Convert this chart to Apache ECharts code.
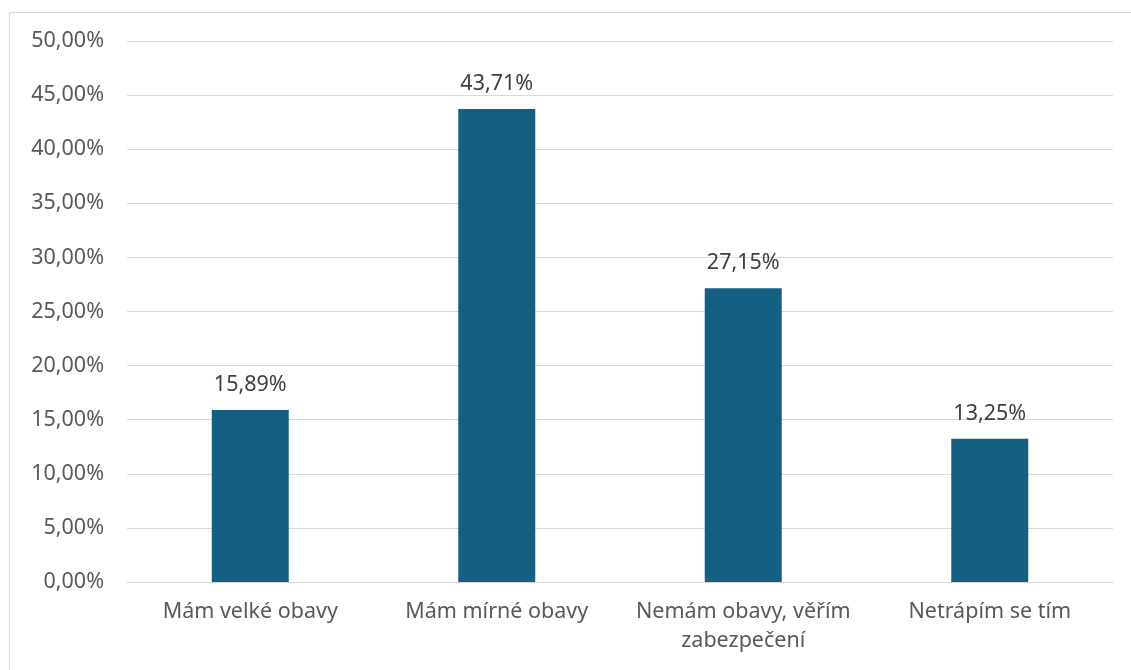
<!DOCTYPE html>
<html>
<head>
<meta charset="utf-8">
<script src="https://cdn.jsdelivr.net/npm/echarts@6/dist/echarts.min.js"></script>
<style>
  html, body { margin: 0; padding: 0; background: #fff; }
  #main { width: 1131px; height: 670px; }
</style>
</head>
<body>
<div id="main"></div>
<script>
const categories = ['Mám velké obavy', 'Mám mírné obavy', 'Nemám obavy, věřím zabezpečení', 'Netrápím se tím'];
const values = [15.89, 43.71, 27.15, 13.25];

const fmt = v => v.toFixed(2).replace('.', ',') + '%';

// zalomeni dlouhych popisku (jako v Excelu)
const wrap = (s, max) => {
  let lines = [], cur = '';
  s.split(' ').forEach(w => {
    if (cur && (cur + ' ' + w).length > max) { lines.push(cur); cur = w; }
    else cur = cur ? cur + ' ' + w : w;
  });
  lines.push(cur);
  return lines.join('\n');
};

let myChart = echarts.init(document.getElementById('main'));
myChart.setOption({
  animation: false,
  textStyle: { fontFamily: 'Noto Sans, sans-serif' },
  graphic: [{
    type: 'rect',
    shape: { x: 9.5, y: 12.5, width: 1130, height: 700 },
    style: { fill: 'none', stroke: '#d9d9d9', lineWidth: 1 },
    silent: true
  }],
  grid: { left: 127, right: 18, top: 41, bottom: 88, outerBoundsMode: 'none' },
  xAxis: {
    type: 'category',
    data: categories,
    axisTick: { show: false },
    axisLine: { lineStyle: { color: '#d9d9d9', width: 1 } },
    axisLabel: {
      color: '#595959',
      fontSize: 21.5,
      margin: 15,
      lineHeight: 29,
      interval: 0,
      formatter: v => wrap(v, 20)
    }
  },
  yAxis: {
    type: 'value',
    min: 0,
    max: 50,
    interval: 5,
    axisLine: { show: false },
    axisTick: { show: false },
    splitLine: { lineStyle: { color: '#d9d9d9', width: 1 } },
    axisLabel: {
      color: '#595959',
      fontSize: 21.5,
      margin: 23,
      formatter: v => fmt(v)
    }
  },
  series: [{
    type: 'bar',
    data: values,
    barWidth: 77,
    itemStyle: { color: '#156082' },
    label: {
      show: true,
      position: 'top',
      distance: 14,
      color: '#404040',
      fontSize: 21.5,
      formatter: p => fmt(p.value)
    }
  }]
});
</script>
</body>
</html>
